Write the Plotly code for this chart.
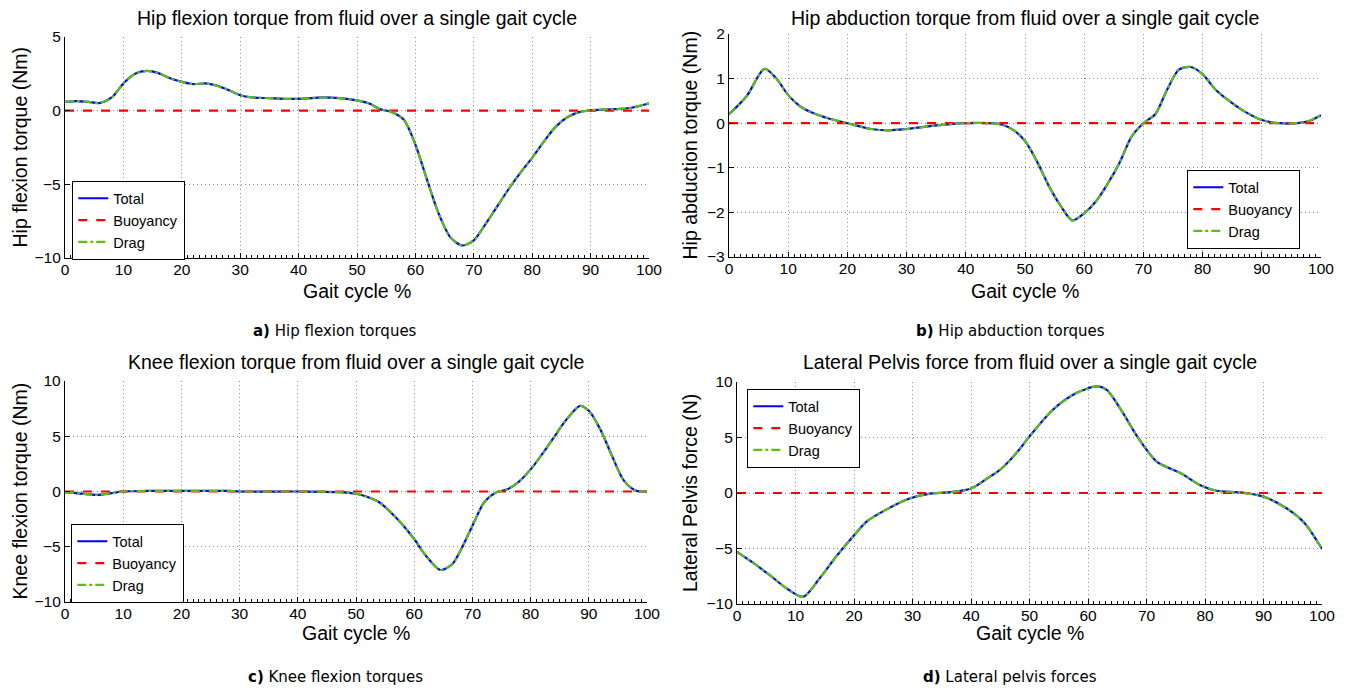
import plotly.graph_objects as go

# page body adds an 8px margin; build the figure so it fills the 1351x693 window exactly
OFF = 8
W, H = 1351 - 2 * OFF, 693 - 2 * OFF

# ---------------- data ----------------
# (a) Hip flexion torque (Nm)
a_x = [0, 2, 4, 6, 8, 10, 12, 14, 16, 18, 20, 22, 24, 26, 28, 30, 32, 35, 38, 41, 44, 47,
       50, 52, 54, 56, 58, 60, 62, 64, 66, 68, 70, 72, 74, 76, 78, 80, 82, 84, 86, 88, 90,
       94, 97, 100]
a_total = [0.6, 0.65, 0.6, 0.52, 0.9, 1.85, 2.5, 2.7, 2.55, 2.2, 1.95, 1.8, 1.85, 1.7, 1.4,
           1.05, 0.9, 0.85, 0.8, 0.82, 0.9, 0.85, 0.7, 0.5, 0.1, -0.1, -0.6, -2.3, -4.7,
           -7.0, -8.6, -9.15, -8.8, -7.7, -6.5, -5.3, -4.2, -3.2, -2.1, -1.1, -0.45, -0.1,
           0.03, 0.1, 0.2, 0.5]
a_drag = [0.6, 0.65, 0.6, 0.52, 0.9, 1.85, 2.5, 2.7, 2.55, 2.2, 1.95, 1.8, 1.85, 1.7, 1.4,
          1.05, 0.9, 0.85, 0.8, 0.82, 0.9, 0.85, 0.7, 0.5, 0.1, -0.1, -0.6, -2.3, -4.7,
          -7.0, -8.6, -9.15, -8.8, -7.7, -6.5, -5.3, -4.2, -3.2, -2.1, -1.1, -0.45, -0.1,
          0.03, 0.1, 0.2, 0.5]

# (b) Hip abduction torque (Nm)
b_x = [0, 3, 6, 8, 10, 12, 14, 17, 20, 24, 27, 30, 35, 40, 44, 46, 48, 50, 52, 54, 56,
       58, 60, 62, 64, 66, 68, 70, 72, 74, 76, 78, 80, 82, 84, 87, 90, 93, 96, 98, 100]
b_total = [0.2, 0.61, 1.22, 1.0, 0.63, 0.38, 0.24, 0.1, 0.0, -0.13, -0.16, -0.13, -0.05,
           0.0, 0.0, -0.03, -0.15, -0.4, -0.85, -1.4, -1.85, -2.18, -2.02, -1.75, -1.35,
           -0.88, -0.3, 0.0, 0.2, 0.75, 1.2, 1.26, 1.1, 0.78, 0.55, 0.27, 0.07, 0.0, 0.0,
           0.05, 0.18]
b_drag = [0.2, 0.61, 1.22, 1.0, 0.63, 0.38, 0.24, 0.1, 0.0, -0.13, -0.16, -0.13, -0.05,
          0.0, 0.0, -0.03, -0.15, -0.4, -0.85, -1.4, -1.85, -2.18, -2.02, -1.75, -1.35,
          -0.88, -0.3, 0.0, 0.2, 0.75, 1.2, 1.26, 1.1, 0.78, 0.55, 0.27, 0.07, 0.0, 0.0,
          0.05, 0.18]

# (c) Knee flexion torque (Nm)
c_x = [0, 3, 5.5, 8, 10, 14, 20, 28, 30, 40, 47, 50, 52, 54, 56, 58, 60, 62, 64.5, 66.5,
       68, 70, 72, 74, 76, 78, 80, 82, 84, 86, 88.5, 90, 92, 94, 96, 98, 100]
c_total = [-0.05, -0.2, -0.3, -0.15, 0.0, 0.05, 0.05, 0.05, 0.0, 0.0, -0.05, -0.2, -0.5,
           -0.97, -1.9, -3.0, -4.3, -5.8, -7.1, -6.6, -5.3, -3.1, -1.0, -0.1, 0.2, 0.9,
           2.0, 3.4, 4.9, 6.4, 7.75, 7.3, 5.6, 3.2, 1.0, 0.1, 0.0]
c_drag = [-0.05, -0.2, -0.3, -0.15, 0.0, 0.05, 0.05, 0.05, 0.0, 0.0, -0.05, -0.2, -0.5,
          -0.97, -1.9, -3.0, -4.3, -5.8, -7.1, -6.6, -5.3, -3.1, -1.0, -0.1, 0.2, 0.9,
          2.0, 3.4, 4.9, 6.4, 7.75, 7.3, 5.6, 3.2, 1.0, 0.1, 0.0]

# (d) Lateral pelvis force (N)
d_x = [0, 2.8, 5.6, 8.5, 11.3, 14.1, 17, 19.8, 22.1, 25.5, 29.5, 33, 36, 40, 43, 45, 48,
       50, 54, 58, 61.5, 63.2, 66, 68.4, 71.8, 75.8, 79.2, 82, 86, 90, 94, 97, 100]
d_total = [-5.3, -6.3, -7.4, -8.6, -9.35, -7.7, -5.7, -3.95, -2.6, -1.5, -0.5, -0.05, 0.05,
           0.4, 1.4, 2.1, 3.75, 5.1, 7.5, 9.0, 9.6, 9.3, 7.2, 5.1, 2.8, 1.8, 0.7, 0.2, 0.05,
           -0.33, -1.4, -2.7, -5.05]
d_drag = [-5.3, -6.3, -7.4, -8.6, -9.35, -7.7, -5.7, -3.95, -2.6, -1.5, -0.5, -0.05, 0.05,
          0.4, 1.4, 2.1, 3.75, 5.1, 7.5, 9.0, 9.6, 9.3, 7.2, 5.1, 2.8, 1.8, 0.7, 0.2, 0.05,
          -0.33, -1.4, -2.7, -5.05]

buoy_x = [0, 100]
buoy_y = [0, 0]

series_names = ["Total", "Buoyancy", "Drag"]

titles = ["Hip flexion torque from fluid over a single gait cycle",
          "Hip abduction torque from fluid over a single gait cycle",
          "Knee flexion torque from fluid over a single gait cycle",
          "Lateral Pelvis force from fluid over a single gait cycle"]
ylabels = ["Hip flexion torque (Nm)", "Hip abduction torque (Nm)",
           "Knee flexion torque (Nm)", "Lateral Pelvis force (N)"]
xlabel = "Gait cycle %"
captions = ["<b>a)</b> Hip flexion torques", "<b>b)</b> Hip abduction torques",
            "<b>c)</b> Knee flexion torques", "<b>d)</b> Lateral pelvis forces"]

y_ranges = [[-10, 5], [-3, 2], [-10, 10], [-10, 10]]
y_dticks = [5, 1, 5, 5]

# ---------------- layout geometry (window pixels) ----------------
# plot area boxes: (left, right, top, bottom)
boxes = [(65, 649, 37, 258), (729, 1321, 34, 257), (65, 647, 381, 602), (737, 1322, 382, 604)]
legend_pos = [(72, 181), (1187, 170), (71, 524), (747, 389)]
ytitle_x = [19, 689, 19, 690]
title_y = [18, 18, 362, 362]
xtitle_y = [291, 291, 633, 633]
caption_pos = [(335, 331), (1010, 331), (335, 677), (1010, 677)]


def px(x):
    return (x - OFF) / W


def py(y):
    return 1 - (y - OFF) / H


BLUE = "#0000ff"
RED = "#ff0000"
GREEN = "#5cc010"
FONT = "Liberation Sans, Arial, sans-serif"

fig = go.Figure()
data = [(a_x, a_total, a_drag), (b_x, b_total, b_drag), (c_x, c_total, c_drag), (d_x, d_total, d_drag)]

layout = dict(width=W, height=H, margin=dict(l=0, r=0, t=0, b=0, autoexpand=False),
              paper_bgcolor="white", plot_bgcolor="white", showlegend=True,
              font=dict(family=FONT, size=15, color="black"))
annotations = []

for i, (xs, tot, drg) in enumerate(data):
    k = "" if i == 0 else str(i + 1)
    xa, ya = "x" + k, "y" + k
    leg = "legend" + k
    fig.add_trace(go.Scatter(x=xs, y=tot, mode="lines", name=series_names[0], xaxis=xa, yaxis=ya,
                             line=dict(color=BLUE, width=2.2, shape="spline", smoothing=0.8),
                             legend=leg))
    fig.add_trace(go.Scatter(x=buoy_x, y=buoy_y, mode="lines", name=series_names[1], xaxis=xa, yaxis=ya,
                             line=dict(color=RED, width=2.2, dash="dash"), legend=leg))
    fig.add_trace(go.Scatter(x=xs, y=drg, mode="lines", name=series_names[2], xaxis=xa, yaxis=ya,
                             line=dict(color=GREEN, width=2.2, dash="dashdot", shape="spline", smoothing=0.8),
                             legend=leg))
    l, r, t, b = boxes[i]
    common_grid = dict(showgrid=True, gridcolor="#8c8c8c", gridwidth=1, griddash="1px,3px",
                       zeroline=False, showline=True, linecolor="black", linewidth=1.3,
                       ticks="inside", ticklen=5, tickcolor="black", tickwidth=1,
                       automargin=False,
                       tickfont=dict(family=FONT, size=15.5, color="black"))
    layout["xaxis" + k] = dict(domain=[px(l), px(r)], anchor=ya, range=[0, 100], dtick=10,
                               tick0=0, ticklabelstandoff=-3,
                               minor=dict(ticks="inside", dtick=1, ticklen=3,
                                          tickcolor="black", showgrid=False),
                               **common_grid)
    layout["yaxis" + k] = dict(domain=[py(b), py(t)], anchor=xa, range=y_ranges[i],
                               dtick=y_dticks[i], tick0=0, **common_grid)
    lx, ly = legend_pos[i]
    layout[leg] = dict(x=px(lx), y=py(ly), xanchor="left", yanchor="top",
                       bgcolor="white", bordercolor="black", borderwidth=1.3,
                       font=dict(family=FONT, size=14.5, color="black"),
                       tracegroupgap=0, itemwidth=30)
    # title
    annotations.append(dict(text=titles[i], x=px((l + r) / 2), y=py(title_y[i]), xref="paper",
                            yref="paper", showarrow=False, xanchor="center", yanchor="middle",
                            font=dict(family=FONT, size=19.5, color="black")))
    # x title
    annotations.append(dict(text=xlabel, x=px((l + r) / 2), y=py(xtitle_y[i]), xref="paper",
                            yref="paper", showarrow=False, xanchor="center", yanchor="middle",
                            font=dict(family=FONT, size=19.5, color="black")))
    # y title
    annotations.append(dict(text=ylabels[i], x=px(ytitle_x[i]), y=py((t + b) / 2), xref="paper",
                            yref="paper", showarrow=False, xanchor="center", yanchor="middle",
                            textangle=-90, font=dict(family=FONT, size=19.5, color="black")))
    # caption
    cx, cy = caption_pos[i]
    annotations.append(dict(text=captions[i], x=px(cx), y=py(cy), xref="paper",
                            yref="paper", showarrow=False, xanchor="center", yanchor="middle",
                            font=dict(family="DejaVu Sans", size=15, color="black")))

layout["annotations"] = annotations
fig.update_layout(**layout)
fig.write_html("out.html")
